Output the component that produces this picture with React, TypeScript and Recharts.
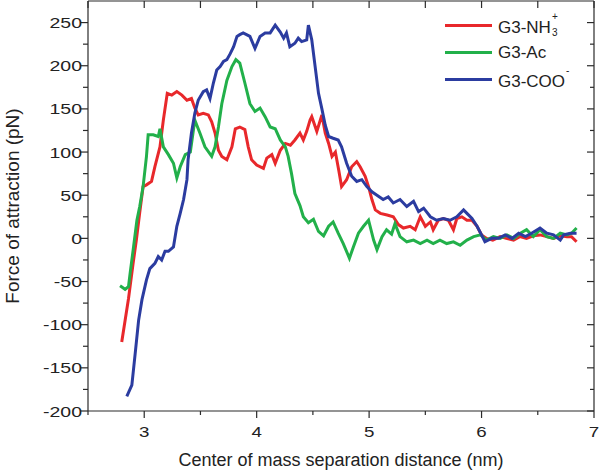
import { Legend, Line, LineChart, XAxis, YAxis } from "recharts";

// distance (nm), force (pN)
const nh3Points: [number, number][] = [
  [2.8, -120], [2.86, -70], [2.875, -55], [2.9, -30], [2.93, -2], [2.96, 30], [2.99, 60],
  [3.02, 62], [3.065, 66], [3.095, 83], [3.14, 106], [3.17, 137], [3.205, 168], [3.245, 166],
  [3.29, 170], [3.335, 166], [3.38, 160], [3.42, 162], [3.45, 151], [3.48, 143], [3.525, 145],
  [3.57, 143], [3.6, 135], [3.63, 122], [3.66, 102], [3.69, 95], [3.735, 91], [3.78, 106],
  [3.81, 127], [3.85, 129], [3.895, 126], [3.925, 106], [3.955, 91], [4.0, 85], [4.06, 81],
  [4.09, 93], [4.135, 97], [4.165, 87], [4.21, 102], [4.255, 110], [4.3, 108], [4.34, 114],
  [4.385, 122], [4.415, 114], [4.445, 124], [4.475, 137], [4.49, 141], [4.535, 124], [4.58, 143],
  [4.61, 122], [4.64, 110], [4.67, 95], [4.7, 100], [4.73, 79], [4.755, 60], [4.8, 68],
  [4.845, 83], [4.89, 89], [4.92, 83], [4.965, 72], [4.995, 60], [5.025, 45], [5.055, 33],
  [5.1, 29], [5.16, 27], [5.215, 25], [5.26, 16], [5.305, 12], [5.365, 14], [5.41, 10],
  [5.455, 25], [5.5, 14], [5.545, 19], [5.57, 10], [5.615, 21], [5.66, 23], [5.705, 21],
  [5.75, 10], [5.78, 23], [5.825, 25], [5.87, 21], [5.915, 21], [5.96, 14], [6.0, 4],
  [6.045, 0], [6.1, -2], [6.165, 2], [6.22, 0], [6.285, -2], [6.34, 2], [6.4, 0], [6.46, 3],
  [6.52, 4], [6.58, 2], [6.64, 0], [6.7, 3], [6.76, 2], [6.8, 2], [6.845, -4],
];

const acPoints: [number, number][] = [
  [2.785, -55], [2.83, -59], [2.86, -56], [2.875, -40], [2.905, -10], [2.935, 21], [2.96, 37],
  [2.99, 60], [3.02, 95], [3.035, 120], [3.08, 120], [3.125, 118], [3.14, 127], [3.17, 106],
  [3.215, 97], [3.26, 87], [3.29, 70], [3.32, 83], [3.365, 97], [3.41, 100], [3.45, 137],
  [3.495, 122], [3.54, 106], [3.6, 95], [3.63, 106], [3.66, 129], [3.69, 156], [3.735, 183],
  [3.78, 199], [3.815, 207], [3.85, 203], [3.895, 180], [3.94, 156], [3.985, 147], [4.03, 151],
  [4.075, 141], [4.12, 129], [4.165, 127], [4.21, 114], [4.255, 106], [4.28, 95], [4.31, 75],
  [4.34, 52], [4.385, 38], [4.415, 25], [4.46, 18], [4.505, 22], [4.55, 8], [4.595, 3],
  [4.64, 14], [4.68, 19], [4.725, 6], [4.77, -6], [4.825, -23], [4.86, -10], [4.905, 6],
  [4.95, 14], [4.995, 21], [5.04, -2], [5.07, -13], [5.115, 2], [5.155, 10], [5.2, 5],
  [5.23, 17], [5.275, 2], [5.335, -4], [5.395, -2], [5.455, -6], [5.515, -2], [5.57, -6],
  [5.63, -2], [5.69, -6], [5.75, -4], [5.81, -8], [5.87, -2], [5.93, 2], [5.99, 4],
  [6.045, -2], [6.105, 2], [6.165, 0], [6.225, 4], [6.285, 0], [6.345, 6], [6.4, 10],
  [6.46, 2], [6.52, 10], [6.58, 2], [6.64, 0], [6.7, 6], [6.76, 4], [6.8, 6], [6.845, 12],
];

const cooPoints: [number, number][] = [
  [2.845, -183], [2.89, -170], [2.92, -133], [2.95, -95], [2.98, -71], [3.02, -48], [3.05, -35],
  [3.095, -29], [3.125, -21], [3.155, -25], [3.185, -15], [3.215, -15], [3.26, -10], [3.29, 14],
  [3.32, 29], [3.35, 45], [3.38, 68], [3.39, 91], [3.42, 122], [3.45, 145], [3.48, 160],
  [3.525, 170], [3.555, 172], [3.585, 162], [3.615, 180], [3.645, 195], [3.675, 199],
  [3.705, 205], [3.735, 207], [3.765, 214], [3.795, 222], [3.825, 234], [3.85, 236],
  [3.88, 238], [3.91, 236], [3.94, 234], [3.985, 220], [4.03, 234], [4.075, 238], [4.12, 238],
  [4.165, 247], [4.21, 239], [4.24, 232], [4.265, 238], [4.295, 222], [4.34, 226], [4.37, 232],
  [4.4, 228], [4.445, 230], [4.46, 247], [4.49, 230], [4.52, 199], [4.55, 168], [4.58, 150],
  [4.61, 131], [4.64, 118], [4.68, 116], [4.725, 114], [4.755, 106], [4.8, 87], [4.845, 72],
  [4.89, 66], [4.935, 68], [4.98, 60], [5.025, 54], [5.07, 50], [5.125, 45], [5.17, 48],
  [5.215, 41], [5.275, 45], [5.335, 37], [5.395, 43], [5.44, 31], [5.485, 35], [5.545, 25],
  [5.6, 21], [5.66, 23], [5.72, 21], [5.78, 25], [5.84, 33], [5.87, 29], [5.915, 23],
  [5.96, 14], [6.0, 4], [6.03, -4], [6.09, 0], [6.15, 0], [6.21, 4], [6.27, 0], [6.33, 6],
  [6.39, 2], [6.445, 6], [6.52, 12], [6.58, 6], [6.64, 4], [6.7, -2], [6.73, 4], [6.79, 6],
  [6.845, 6],
];

const xTicks = [2.5, 3, 3.5, 4, 4.5, 5, 5.5, 6, 6.5, 7];
const yTicks = [
  -200, -175, -150, -125, -100, -75, -50, -25, 0, 25, 50, 75, 100, 125, 150, 175, 200, 225, 250,
];
const yMajor = [-200, -150, -100, -50, 0, 50, 100, 150, 200, 250];

const FONT = '"Liberation Sans", Arial, sans-serif';
const AXIS = "#2a2a2a";
const TEXT = "#222";

const toRows = (pts: [number, number][]) => pts.map(([d, f]) => ({ d, f }));

const nh3Data = toRows(nh3Points);
const acData = toRows(acPoints);
const cooData = toRows(cooPoints);

const series = [
  { key: "nh3", data: nh3Data, color: "#e8282b" },
  { key: "ac", data: acData, color: "#22b04a" },
  { key: "coo", data: cooData, color: "#2b3ca0" },
];

function BottomTick({ x, y, payload }: any) {
  const major = Number.isInteger(payload.value);
  return (
    <g>
      <line x1={x} x2={x} y1={y} y2={y + (major ? 7 : 4)} stroke={AXIS} strokeWidth={1.2} />
      {major && (
        <text
          transform={`translate(${x},${y + 26}) scale(1.25,1)`}
          textAnchor="middle"
          fontSize={15}
          fontFamily={FONT}
          fill={TEXT}
        >
          {payload.value}
        </text>
      )}
    </g>
  );
}

function TopTick({ x, y }: any) {
  return <line x1={x} x2={x} y1={y} y2={y + 7} stroke={AXIS} strokeWidth={1.2} />;
}

function LeftTick({ x, y, payload }: any) {
  const major = yMajor.includes(payload.value);
  return (
    <g>
      <line x1={x} x2={x - (major ? 8 : 5)} y1={y} y2={y} stroke={AXIS} strokeWidth={1.2} />
      {major && (
        <text
          transform={`translate(${x - 6},${y + 5.5}) scale(1.3,1)`}
          textAnchor="end"
          fontSize={15}
          fontFamily={FONT}
          fill={TEXT}
        >
          {payload.value}
        </text>
      )}
    </g>
  );
}

function RightTick({ x, y, payload }: any) {
  const major = yMajor.includes(payload.value);
  return <line x1={x} x2={x - (major ? 7 : 4)} y1={y} y2={y} stroke={AXIS} strokeWidth={1.2} />;
}

// superscript charge stacked over the subscript, Origin style
function Charge({ sup, sub }: { sup: string; sub?: string }) {
  return (
    <span style={{ position: "relative", display: "inline-block", width: 8, height: 17 }}>
      <span style={{ position: "absolute", left: 1, top: -4, fontSize: 10, lineHeight: "10px" }}>{sup}</span>
      {sub && (
        <span style={{ position: "absolute", left: 1, top: 12, fontSize: 10, lineHeight: "10px" }}>{sub}</span>
      )}
    </span>
  );
}

function LegendBox() {
  const rows = [
    { color: "#e8282b", label: <>G3-NH<Charge sup="+" sub="3" /></> },
    { color: "#22b04a", label: <>G3-Ac</> },
    { color: "#2b3ca0", label: <>G3-COO<Charge sup="-" /></> },
  ];
  return (
    <div style={{ fontFamily: FONT, fontSize: 17, color: TEXT }}>
      {rows.map((r, i) => (
        <div key={i} style={{ display: "flex", alignItems: "center", height: 27 }}>
          <span
            style={{ display: "inline-block", width: 47, height: 3, background: r.color, marginLeft: 5 }}
          />
          <span style={{ marginLeft: 6, whiteSpace: "nowrap", lineHeight: "17px" }}>{r.label}</span>
        </div>
      ))}
    </div>
  );
}

export default function App() {
  return (
    <div style={{ position: "absolute", left: 0, top: 0, background: "#fff" }}>
      <LineChart width={600} height={473} margin={{ top: 0, right: 5, bottom: 0, left: 0 }}>
        <XAxis
          xAxisId="top"
          orientation="top"
          type="number"
          dataKey="d"
          domain={[2.5, 7]}
          ticks={xTicks}
          height={1}
          tickSize={0}
          tickMargin={0}
          tickLine={false}
          tick={<TopTick />}
          interval={0}
          stroke={AXIS}
          strokeWidth={1.2}
          allowDataOverflow
        />
        <XAxis
          type="number"
          dataKey="d"
          domain={[2.5, 7]}
          ticks={xTicks}
          height={62}
          tickSize={0}
          tickMargin={0}
          tickLine={false}
          tick={<BottomTick />}
          interval={0}
          stroke={AXIS}
          strokeWidth={1.2}
          allowDataOverflow
          label={{
            value: "Center of mass separation distance (nm)",
            position: "insideBottom",
            offset: 7,
            fontSize: 18,
            fontFamily: FONT,
            fill: TEXT,
          }}
        />
        <YAxis
          type="number"
          domain={[-200, 275]}
          ticks={yTicks}
          width={88}
          tickSize={0}
          tickMargin={0}
          tickLine={false}
          tick={<LeftTick />}
          interval={0}
          stroke={AXIS}
          strokeWidth={1.2}
          allowDataOverflow
          label={{
            value: "Force of attraction (pN)",
            angle: -90,
            position: "insideLeft",
            offset: 12,
            fontSize: 19,
            fontFamily: FONT,
            fill: TEXT,
            style: { textAnchor: "middle" },
          }}
        />
        <YAxis
          yAxisId="right"
          orientation="right"
          type="number"
          domain={[-200, 275]}
          ticks={yTicks}
          width={1}
          tickSize={0}
          tickMargin={0}
          tickLine={false}
          tick={<RightTick />}
          interval={0}
          stroke={AXIS}
          strokeWidth={1.2}
          allowDataOverflow
        />
        {series.map((s) => (
          <Line
            key={s.key}
            data={s.data}
            dataKey="f"
            type="linear"
            stroke={s.color}
            strokeWidth={3}
            dot={false}
            activeDot={false}
            isAnimationActive={false}
          />
        ))}
        <Legend
          layout="horizontal"
          verticalAlign="middle"
          align="center"
          content={<LegendBox />}
          wrapperStyle={{ left: 440, top: 12, width: 160, height: 81 }}
        />
      </LineChart>
    </div>
  );
}
